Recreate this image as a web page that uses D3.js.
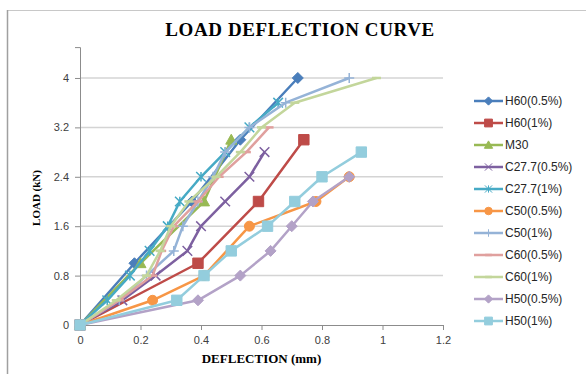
<!DOCTYPE html>
<meta charset="utf-8">
<style>
body { margin: 0; background: #fff; }
.tick text { font-family: "Liberation Sans", Arial, sans-serif; font-size: 11px; fill: #404040; }
.title { font-family: "Liberation Serif", "Times New Roman", serif; font-weight: bold; }
.legend text { font-family: "Liberation Sans", Arial, sans-serif; font-size: 12px; fill: #262626; }
</style>
<svg width="586" height="374"></svg>
<script src="https://d3js.org/d3.v7.min.js"></script>
<script>
// data: [deflection (mm), load (kN)]
var h60_05 = [[0,0],[0.18,1.0],[0.37,2.0],[0.53,3.0],[0.72,4.0]];
var h60_1  = [[0,0],[0.39,1.0],[0.59,2.0],[0.74,3.0]];
var m30    = [[0,0],[0.20,1.0],[0.41,2.0],[0.50,3.0]];
var c277_05 = [[0,0],[0.14,0.4],[0.25,0.8],[0.355,1.2],[0.40,1.6],[0.48,2.0],[0.56,2.4],[0.61,2.8]];
var c277_1  = [[0,0],[0.09,0.4],[0.165,0.8],[0.23,1.2],[0.29,1.6],[0.33,2.0],[0.40,2.4],[0.48,2.8],[0.56,3.2],[0.655,3.6]];
var c50_05 = [[0,0],[0.24,0.4],[0.41,0.8],[0.56,1.6],[0.78,2.0],[0.89,2.4]];
var c50_1  = [[0,0],[0.13,0.4],[0.22,0.8],[0.31,1.2],[0.34,1.6],[0.39,2.0],[0.44,2.4],[0.48,2.8],[0.56,3.2],[0.68,3.6],[0.89,4.0]];
var c60_05 = [[0,0],[0.13,0.4],[0.24,0.8],[0.27,1.2],[0.31,1.6],[0.39,2.0],[0.46,2.4],[0.55,2.8],[0.625,3.2]];
var c60_1  = [[0,0],[0.12,0.4],[0.22,0.8],[0.265,1.2],[0.30,1.6],[0.36,2.0],[0.45,2.4],[0.53,2.8],[0.60,3.2],[0.71,3.6],[0.98,4.0]];
var h50_05 = [[0,0],[0.39,0.4],[0.53,0.8],[0.63,1.2],[0.70,1.6],[0.77,2.0],[0.89,2.4]];
var h50_1  = [[0,0],[0.32,0.4],[0.41,0.8],[0.50,1.2],[0.62,1.6],[0.71,2.0],[0.80,2.4],[0.93,2.8]];

var names   = ["H60(0.5%)","H60(1%)","M30","C27.7(0.5%)","C27.7(1%)","C50(0.5%)","C50(1%)","C60(0.5%)","C60(1%)","H50(0.5%)","H50(1%)"];
var values  = [h60_05, h60_1, m30, c277_05, c277_1, c50_05, c50_1, c60_05, c60_1, h50_05, h50_1];
var colors  = ["#4A7EBB","#BE4B48","#98B954","#7D60A0","#46AAC5","#F79646","#95B3D7","#E0A09E","#C3D69B","#B3A2C7","#93CDDD"];
var markers = ["diamond","square","triangle","x","star","circle","plus","dash","dash","diamond","square"];

var xTicks = [0,0.2,0.4,0.6,0.8,1,1.2];
var yTicks = [0,0.8,1.6,2.4,3.2,4];

var svg = d3.select("svg");

// chart frame
svg.append("rect")
    .attr("x", 7.5).attr("y", 10.5)
    .attr("width", 600).attr("height", 400)
    .attr("fill", "none").attr("stroke", "#C8C8C8");
svg.append("line")
    .attr("x1", 7.5).attr("x2", 7.5).attr("y1", 10).attr("y2", 374)
    .attr("stroke", "#A0A0A0").attr("stroke-width", 1.5);

var x = d3.scaleLinear().domain([0, 1.2]).range([80, 443]);
var y = d3.scaleLinear().domain([0, 4.5]).range([325, 47.1]);

// gridlines
svg.append("g")
  .selectAll("line")
  .data(yTicks.slice(1))
  .enter().append("line")
    .attr("x1", x(0)).attr("x2", x(1.2))
    .attr("y1", function(d) { return y(d); })
    .attr("y2", function(d) { return y(d); })
    .attr("stroke", "#D4D4D4").attr("stroke-width", 1.5);

// axes
var xAxis = svg.append("g")
    .attr("transform", "translate(0," + y(0) + ")")
    .call(d3.axisBottom(x).tickValues(xTicks).tickSize(5).tickPadding(6)
      .tickFormat(function(d) { return d3.format("")(+d.toFixed(1)); }));
var yAxis = svg.append("g")
    .attr("transform", "translate(" + x(0) + ",0)")
    .call(d3.axisLeft(y).tickValues(yTicks).tickSize(5).tickPadding(6)
      .tickFormat(function(d) { return d3.format("")(+d.toFixed(1)); }));
[xAxis, yAxis].forEach(function(a) {
  a.select(".domain").attr("stroke", "#8C8C8C");
  a.selectAll(".tick line").attr("stroke", "#8C8C8C");
});

// titles
svg.append("text").attr("class", "title")
    .attr("x", 300).attr("y", 36)
    .attr("text-anchor", "middle").attr("font-size", 19)
    .attr("letter-spacing", 0.6)
    .text("LOAD DEFLECTION CURVE");
svg.append("text").attr("class", "title")
    .attr("x", 261.5).attr("y", 363)
    .attr("text-anchor", "middle").attr("font-size", 13)
    .text("DEFLECTION (mm)");
svg.append("text").attr("class", "title")
    .attr("transform", "translate(40,198) rotate(-90)")
    .attr("text-anchor", "middle").attr("font-size", 11)
    .text("LOAD (kN)");

// marker shapes
function markerPath(type, s) {
  var r = 5.5 * s;
  switch (type) {
    case "diamond": return "M0," + (-r) + "L" + r + ",0L0," + r + "L" + (-r) + ",0Z";
    case "square": r = 5.2 * s; return "M" + (-r) + "," + (-r) + "H" + r + "V" + r + "H" + (-r) + "Z";
    case "triangle": r = 5.5 * s; return "M0," + (-r) + "L" + r + "," + (r * 0.8) + "L" + (-r) + "," + (r * 0.8) + "Z";
    case "circle": return d3.symbol(d3.symbolCircle, Math.PI * 25 * s * s)();
    case "x": r = 4.8 * s; return "M" + (-r) + "," + (-r) + "L" + r + "," + r + "M" + (-r) + "," + r + "L" + r + "," + (-r);
    case "star": r = 4.8 * s; return "M" + (-r) + "," + (-r) + "L" + r + "," + r + "M" + (-r) + "," + r + "L" + r + "," + (-r) + "M0," + (-r) + "V" + r;
    case "plus": r = 5 * s; return "M" + (-r) + ",0H" + r + "M0," + (-r) + "V" + r;
    case "dash": r = 4.5 * s; return "M" + (-r) + ",0H" + r;
  }
}
function isOpen(type) { return ["x","star","plus","dash"].indexOf(type) >= 0; }

var line = d3.line()
    .x(function(d) { return x(d[0]); })
    .y(function(d) { return y(d[1]); });

var series = svg.append("g").selectAll("g")
    .data(values)
  .enter().append("g");

series.append("path")
    .attr("d", line)
    .attr("fill", "none")
    .attr("stroke", function(d, i) { return colors[i]; })
    .attr("stroke-width", 2.5)
    .attr("stroke-linejoin", "round");

series.each(function(d, i) {
  d3.select(this).selectAll(".mk")
      .data(d)
    .enter().append("path")
      .attr("class", "mk")
      .attr("transform", function(p) { return "translate(" + x(p[0]) + "," + y(p[1]) + ")"; })
      .attr("d", markerPath(markers[i], 1))
      .attr("fill", isOpen(markers[i]) ? "none" : colors[i])
      .attr("stroke", colors[i])
      .attr("stroke-width", markers[i] === "dash" ? 2.5 : (isOpen(markers[i]) ? 1.5 : 1));
});

// legend
var legend = svg.append("g").attr("class", "legend")
  .selectAll("g")
    .data(names)
  .enter().append("g")
    .attr("transform", function(d, i) { return "translate(474," + (101 + i * 22) + ")"; });

legend.append("line")
    .attr("x1", 0).attr("x2", 29)
    .attr("stroke", function(d, i) { return colors[i]; })
    .attr("stroke-width", 2.5);
legend.append("path")
    .attr("transform", "translate(14.5,0)")
    .attr("d", function(d, i) { return markerPath(markers[i], 0.75); })
    .attr("fill", function(d, i) { return isOpen(markers[i]) ? "none" : colors[i]; })
    .attr("stroke", function(d, i) { return colors[i]; })
    .attr("stroke-width", function(d, i) { return markers[i] === "dash" ? 2.5 : 1; });
legend.append("text")
    .attr("x", 31).attr("dy", "0.35em")
    .text(function(d) { return d; });
</script>
